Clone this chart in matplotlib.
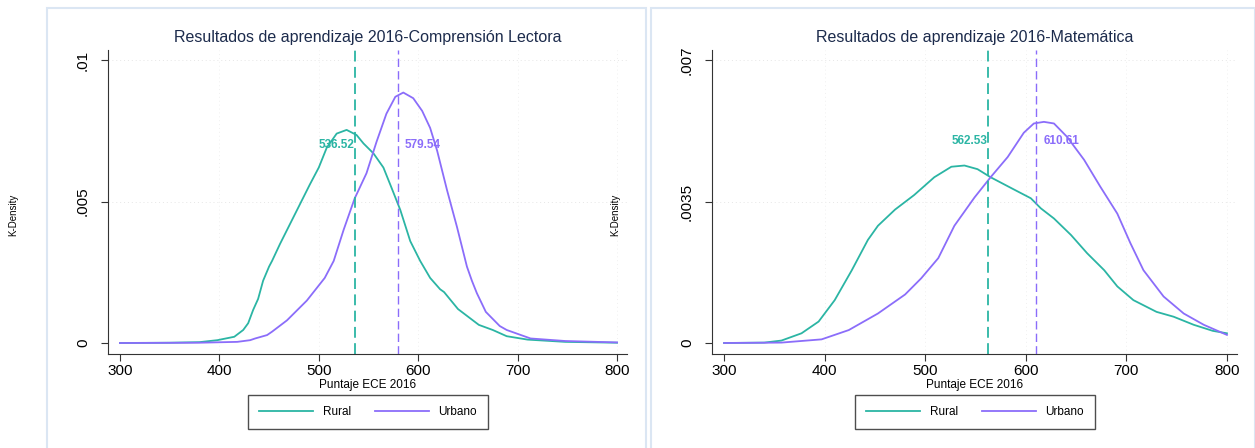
import matplotlib
matplotlib.use("Agg")
import matplotlib.pyplot as plt
from matplotlib.patches import Rectangle

plt.rcParams["font.family"] = ["Liberation Sans", "DejaVu Sans"]

# --- Comprensión Lectora (left panel) ---
lect_x_rural = [300, 350, 380, 398, 415, 424, 429, 434, 439, 444, 450, 453, 461, 471,
                481, 491, 500, 508, 518, 528, 538, 545, 555, 565, 573, 582, 592, 602,
                612, 622, 626, 640, 661, 675, 689, 710, 748, 800]
lect_y_rural = [0, 0.00001, 0.00003, 0.0001, 0.00022, 0.00046, 0.0007, 0.00117,
                0.00156, 0.0022, 0.0027, 0.0029, 0.0035, 0.0042, 0.0049, 0.0056, 0.0062,
                0.0069, 0.0074, 0.00753, 0.00735, 0.00705, 0.0067, 0.0062, 0.0055,
                0.0047, 0.0036, 0.0029, 0.0023, 0.0019, 0.0018, 0.0012, 0.00064,
                0.00046, 0.00024, 0.00012, 0.00004, 0.00001]
lect_x_urb = [300, 380, 418, 431, 436, 448, 453, 468, 488, 506, 515, 525, 536, 548, 558,
              568, 577, 585, 595, 604, 612, 619, 629, 639, 649, 654, 659, 668, 682, 689,
              713, 748, 800]
lect_y_urb = [0, 0.00001, 0.00004, 0.0001, 0.00016, 0.00028, 0.0004, 0.0008, 0.0015,
              0.0023, 0.0029, 0.0040, 0.0051, 0.0060, 0.0071, 0.0081, 0.0087, 0.00885,
              0.00865, 0.0082, 0.0076, 0.0068, 0.0054, 0.0041, 0.0027, 0.0022, 0.00176,
              0.0011, 0.0006, 0.00046, 0.00016, 0.00007, 0.00002]
lect_means = [536.52, 579.54]

# --- Matemática (right panel) ---
mat_x_rural = [300, 340, 357, 377, 394, 410, 427, 443, 453, 470, 489, 509, 526, 539,
               552, 565, 588, 605, 615, 628, 645, 661, 678, 691, 707, 730, 747, 767,
               786, 800]
mat_y_rural = [0, 0.00001, 0.00006, 0.00024, 0.00053, 0.00106, 0.0018, 0.00255, 0.0029,
               0.0033, 0.00366, 0.0041, 0.00436, 0.00439, 0.0043, 0.0041, 0.0038,
               0.00358, 0.00333, 0.00308, 0.00267, 0.00222, 0.0018, 0.0014, 0.00106,
               0.00077, 0.00065, 0.00045, 0.0003, 0.00024]
mat_x_urb = [300, 357, 397, 424, 453, 480, 496, 513, 529, 549, 565, 582, 598, 608, 618,
             628, 641, 658, 674, 691, 704, 717, 737, 757, 777, 800]
mat_y_urb = [0, 0.00001, 0.00009, 0.00032, 0.00073, 0.0012, 0.0016, 0.0021, 0.0029,
             0.0036, 0.0041, 0.0046, 0.0052, 0.00543, 0.00547, 0.00543, 0.0051,
             0.00453, 0.00387, 0.0032, 0.00247, 0.0018, 0.00115, 0.00073, 0.00045,
             0.0002]
mat_means = [562.53, 610.61]

xticks = [300, 400, 500, 600, 700, 800]
RURAL = "#2bb5a4"
URBANO = "#8b6dfa"
TITLE_C = "#1c2b4c"

fig = plt.figure(figsize=(12.55, 4.48), dpi=100)

# light blue panel frames
for x0, w in [(47 / 1255, 599 / 1255), (651 / 1255, 604 / 1255)]:
    fig.patches.append(Rectangle((x0, -0.01), w, 1 - 8 / 448 + 0.01,
                                 transform=fig.transFigure, fill=False,
                                 edgecolor="#dbe6f3", linewidth=1.5))


def panel(rect, title, xr, yr, xu, yu, means, ymax, yticks, yticklabels, lab_y,
          leg_x):
    ax = fig.add_axes(rect)
    pad_lo = ymax * 11 / 283
    pad_hi = ymax * 10 / 283
    ax.set_ylim(-pad_lo, ymax + pad_hi)
    ax.set_xlim(288, 810)
    for t in yticks[1:]:
        ax.axhline(t, color="#e6e6e6", lw=0.7, ls=(0, (1, 3)), zorder=0)
    for t in xticks[1:]:
        ax.axvline(t, color="#f0f0f0", lw=0.7, ls=(0, (1, 3)), zorder=0)
    h_r, = ax.plot(xr, yr, color=RURAL, lw=1.3, label="Rural")
    h_u, = ax.plot(xu, yu, color=URBANO, lw=1.3, label="Urbano")
    ax.axvline(means[0], color=RURAL, lw=1.3, ls=(0, (6, 3)))
    ax.axvline(means[1], color=URBANO, lw=1.0, ls=(0, (6, 3)))
    ax.text(means[0] - 1, lab_y, f"{means[0]:.2f}", color=RURAL, fontsize=8.5,
            fontweight="bold", ha="right", va="center")
    ax.text(means[1] + 7, lab_y, f"{means[1]:.2f}", color=URBANO, fontsize=8.5,
            fontweight="bold", ha="left", va="center")
    ax.set_title(title, color=TITLE_C, fontsize=11.5, pad=6)
    ax.set_xticks(xticks)
    ax.set_yticks(yticks)
    ax.set_yticklabels(yticklabels, rotation=90, va="center")
    ax.tick_params(axis="both", labelsize=11, length=5, color="#333333")
    ax.tick_params(axis="y", pad=8)
    ax.tick_params(axis="x", pad=2)
    ax.spines["top"].set_visible(False)
    ax.spines["right"].set_visible(False)
    for s in ["left", "bottom"]:
        ax.spines[s].set_color("#333333")
    ax.set_xlabel("Puntaje ECE 2016", fontsize=8.5, labelpad=1)
    leg = fig.legend(handles=[h_r, h_u], loc="center",
                     bbox_to_anchor=(leg_x, 1 - 412 / 448), ncol=2, fontsize=8.5,
                     fancybox=False, edgecolor="#222222", handlelength=4.6,
                     columnspacing=2.0, borderpad=0.9, handletextpad=0.8)
    leg.get_frame().set_linewidth(1.0)
    return ax


bottom = 1 - 354 / 448
height = (354 - 50) / 448
ax1 = panel([108 / 1255, bottom, 519 / 1255, height],
            "Resultados de aprendizaje 2016-Comprensión Lectora",
            lect_x_rural, lect_y_rural, lect_x_urb, lect_y_urb, lect_means,
            0.01, [0, 0.005, 0.01], ["0", ".005", ".01"], 0.0070, 368 / 1255)
ax2 = panel([712 / 1255, bottom, 525 / 1255, height],
            "Resultados de aprendizaje 2016-Matemática",
            mat_x_rural, mat_y_rural, mat_x_urb, mat_y_urb, mat_means,
            0.007, [0, 0.0035, 0.007], ["0", ".0035", ".007"], 0.0050, 975 / 1255)

fig.text(13 / 1255, 1 - 215 / 448, "K-Density", rotation=90, fontsize=7,
         ha="center", va="center")
fig.text(615 / 1255, 1 - 215 / 448, "K-Density", rotation=90, fontsize=7,
         ha="center", va="center")

fig.savefig("out.png", dpi=100, facecolor="white")
